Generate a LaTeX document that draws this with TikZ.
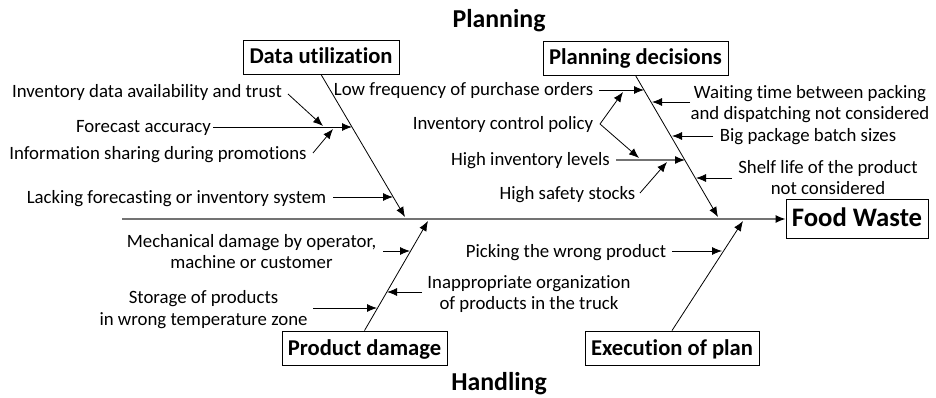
\documentclass[tikz,border=0pt]{standalone}
\usepackage{fontspec}
\setmainfont{Carlito}[Ligatures={NoCommon}]
\usetikzlibrary{arrows.meta}
\begin{document}
\begin{tikzpicture}[x=1pt,y=-1pt,
  lbl/.style={font=\fontsize{18.8}{21.5}\selectfont, inner sep=0pt, align=center},
  box/.style={draw=black, line width=0.9pt, font=\fontsize{22.6}{25}\bfseries\selectfont,
    inner sep=0pt, minimum height=34pt, text height=16.5pt, text depth=2.5pt},
  ttl/.style={font=\fontsize{25.8}{28}\bfseries\selectfont, inner sep=0pt, anchor=base},
  arr/.style={-{Latex[length=10pt,width=8pt]}, line width=0.8pt},
  bone/.style={-{Latex[length=10pt,width=8pt]}, line width=0.8pt},
  grayarr/.style={-{Latex[length=10pt,width=8pt,color=black]}, line width=1.2pt, draw=black!55},
  spine/.style={-{Latex[length=10pt,width=8pt,color=black]}, line width=1.4pt, draw=black!55}
]
\useasboundingbox (0,0) rectangle (936,398);

% titles
\node[ttl] (tplan) at (499,28) {Planning};
\node[ttl] (thand) at (499,390) {Handling};

% effect and spine
\node[box, minimum width=142pt, minimum height=39pt, font=\fontsize{26.7}{29}\bfseries\selectfont,
  text height=18pt, text depth=2.5pt] (fw) at (857,219) {Food Waste};
\coordinate (tail) at (122,219);
\draw[spine] (tail) -- (fw.west);

% category boxes
\node[box, minimum width=156pt] (du) at (321,57) {Data utilization};
\node[box, minimum width=185pt] (pd) at (635.5,58) {Planning decisions};
\node[box, minimum width=165pt] (pdm) at (364.5,348) {Product damage};
\node[box, minimum width=174pt] (ex) at (672,348) {Execution of plan};

% bone tips on spine
\coordinate (duT) at (405,217);
\coordinate (pdT) at (718,217);
\coordinate (pdmT) at (428,221);
\coordinate (exT) at (743,221);
\draw[bone] (du.south) -- (duT);
\draw[bone] (pd.south) -- (pdT);
\draw[bone] (pdm.north) -- (pdmT);
\draw[bone] (ex.north) -- (exT);

% ---- Data utilization causes
\node[lbl] (c1) at (147,93.7) {\strut Inventory data availability and trust};
\node[lbl] (c2) at (143.5,128.7) {\strut Forecast accuracy};
\node[lbl] (c3) at (158,155.7) {\strut Information sharing during promotions};
\node[lbl] (c4) at (176.5,198.7) {\strut Lacking forecasting or inventory system};
\coordinate (c1s) at (288,94);   \coordinate (c1t) at (323,126);
\coordinate (c2s) at (213,127);  \coordinate (c2t) at (352,127);
\coordinate (c3s) at (313,153);  \coordinate (c3t) at (333,129);
\coordinate (c4s) at (333,197);  \coordinate (c4t) at (393,197);
\draw[arr] (c1s) -- (c1t);
\draw[arr] (c2s) -- (c2t);
\draw[arr] (c3s) -- (c3t);
\draw[arr] (c4s) -- (c4t);

% ---- Planning decisions causes
\node[lbl] (p1) at (463.5,91.7) {\strut Low frequency of purchase orders};
\node[lbl] (p2) at (503,125.7) {\strut Inventory control policy};
\node[lbl] (p3) at (530.5,161.7) {\strut High inventory levels};
\node[lbl] (p4) at (567.5,194.7) {\strut High safety stocks};
\node[lbl] (p5) at (810,104.7) {\strut Waiting time between packing\\\strut and dispatching not considered};
\node[lbl] (p6) at (808,137.7) {\strut Big package batch sizes};
\node[lbl] (p7) at (828,179.7) {\strut Shelf life of the product\\\strut not considered};
\coordinate (p1s) at (599,90);   \coordinate (p1t) at (644,90);
\coordinate (p2v) at (600,124);  \coordinate (p2a) at (623,92); \coordinate (p2b) at (639,158);
\coordinate (p3s) at (616,160);  \coordinate (p3t) at (685,160);
\coordinate (p4s) at (640,193);  \coordinate (p4t) at (667,162);
\coordinate (p5s) at (690,102);  \coordinate (p5t) at (652,102);
\coordinate (p6s) at (713,136);  \coordinate (p6t) at (672,136);
\coordinate (p7s) at (732,178);  \coordinate (p7t) at (696,178);
\draw[arr] (p1s) -- (p1t);
\draw[arr] (p2v) -- (p2a);
\draw[arr] (p2v) -- (p2b);
\draw[grayarr] (p3s) -- (p3t);
\draw[arr] (p4s) -- (p4t);
\draw[arr] (p5s) -- (p5t);
\draw[arr] (p6s) -- (p6t);
\draw[arr] (p7s) -- (p7t);

% ---- Product damage causes
\node[lbl] (d1) at (251.5,253.7) {\strut Mechanical damage by operator,\\\strut machine or customer};
\node[lbl] (d2) at (203.5,310.2) {\strut Storage of products\\\strut in wrong temperature zone};
\node[lbl] (d3) at (529,294.7) {\strut Inappropriate organization\\\strut of products in the truck};
\coordinate (d1s) at (383,251);  \coordinate (d1t) at (410,251);
\coordinate (d2s) at (313,308);  \coordinate (d2t) at (377,308);
\coordinate (d3s) at (422,292);  \coordinate (d3t) at (387,292);
\draw[arr] (d1s) -- (d1t);
\draw[arr] (d2s) -- (d2t);
\draw[arr] (d3s) -- (d3t);

% ---- Execution of plan causes
\node[lbl] (e1) at (566,252.7) {\strut Picking the wrong product};
\coordinate (e1s) at (672,251);  \coordinate (e1t) at (722,251);
\draw[arr] (e1s) -- (e1t);
\end{tikzpicture}
\end{document}
